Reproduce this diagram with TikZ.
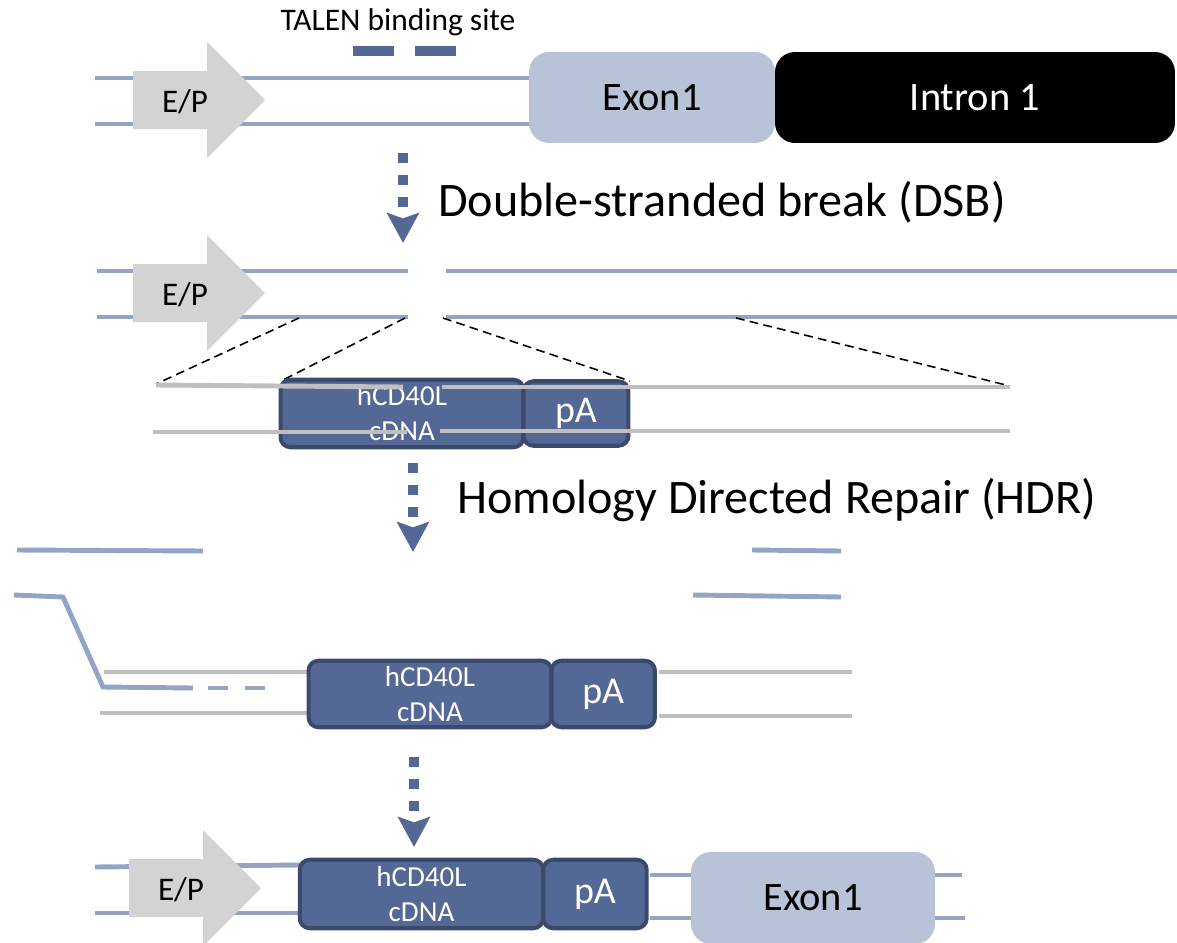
\documentclass[tikz,border=0pt]{standalone}
\usepackage{fontspec}
\setmainfont{Carlito}
\usetikzlibrary{arrows.meta}
\definecolor{strandblue}{RGB}{148,164,196}
\definecolor{cassette}{RGB}{83,104,149}
\definecolor{cassetteedge}{RGB}{59,74,108}
\definecolor{exonfill}{RGB}{184,195,216}
\definecolor{promgray}{RGB}{211,211,211}
\definecolor{donorgray}{RGB}{191,191,191}

\begin{document}
\begin{tikzpicture}[x=0.02cm, y=-0.02cm,
  strand/.style={draw=strandblue, line width=2.8pt},
  donor/.style={draw=donorgray, line width=2.8pt},
  zoomline/.style={draw=black, line width=0.9pt, dash pattern=on 5pt off 3pt},
  talensite/.style={draw=cassette, line width=5.7pt, dash pattern=on 23.3pt off 11.9pt},
  promoter/.style={fill=promgray},
  eplabel/.style={anchor=base, font=\fontsize{18.8}{22}\selectfont},
  exonbox/.style={fill=exonfill, rounded corners=0.4cm, inner sep=0pt, outer sep=0pt, font=\fontsize{23}{28}\selectfont},
  intronbox/.style={fill=black, text=white, rounded corners=0.4cm, inner sep=0pt, outer sep=0pt, font=\fontsize{23}{28}\selectfont},
  cdnabox/.style={fill=cassette, draw=cassetteedge, line width=2.3pt, rounded corners=0.2cm, text=white, align=center, inner sep=0pt, outer sep=0pt, font=\fontsize{16.5}{19.9}\selectfont},
  pabox/.style={fill=cassette, draw=cassetteedge, line width=2.3pt, rounded corners=0.2cm, text=white, inner sep=0pt, outer sep=0pt, anchor=west, font=\fontsize{21.6}{26}\selectfont},
  steplabel/.style={anchor=base west, font=\fontsize{27.4}{32}\selectfont},
  flow/.style={draw=cassette, line width=5.7pt, dash pattern=on 5.7pt off 6.8pt, -{Stealth[length=17pt, width=18pt, inset=3pt]}}
]
\useasboundingbox (0,0) rectangle (1177,943);

% TALEN binding site
\node[anchor=base, font=\fontsize{17.9}{21}\selectfont] (talen) at (398,31) {TALEN binding site};
\draw[talensite] (353,51) -- (457,51);

% Strands
\draw[strand] (95,78) -- (540,78);
\draw[strand] (95,124) -- (540,124);
\draw[strand] (97,271) -- (408,271);
\draw[strand] (446,271) -- (1177,271);
\draw[strand] (97,317) -- (408,317);
\draw[strand] (446,317) -- (1177,317);
\draw[strand] (17,550) -- (203,551);
\draw[strand] (752,550) -- (841,551);
\draw[strand] (693,595) -- (841,597);
\draw[strand] (14,595) -- (63,597) -- (103,687) -- (193,688);
\draw[strand, dash pattern=on 11.4pt off 9.7pt] (208,688) -- (266,688);
\draw[strand] (95,867) -- (300,865);
\draw[strand] (95,913) -- (300,913);
\draw[strand] (650,875) -- (700,875);
\draw[strand] (650,918) -- (700,918);
\draw[strand] (930,875) -- (962,875);
\draw[strand] (930,918) -- (965,918);

% Enhancer/promoter
\foreach \cy/\dx [count=\i] in {100/0, 293/0, 888/-4} {
  \fill[promoter] ({133+\dx},{\cy-29}) -- ({207+\dx},{\cy-29}) -- ({207+\dx},{\cy-58})
    -- ({265+\dx},\cy) -- ({207+\dx},{\cy+58}) -- ({207+\dx},{\cy+29}) -- ({133+\dx},{\cy+29}) -- cycle;
  \node[eplabel] (ep\i) at ({185+\dx},{\cy+12}) {E/P};
}

% Locus
\node[exonbox, minimum width=4.92cm, minimum height=1.82cm] (exonA) at (652,97.5) {Exon1};
\node[intronbox, minimum width=8cm, minimum height=1.82cm] (intron) at (975,97.5) {Intron 1};

% Steps
\coordinate (dsbstart) at (403,153);
\coordinate (dsbend) at (403,243);
\draw[flow] (dsbstart) -- (dsbend);
\node[steplabel] (dsb) at (432,216) {Double-stranded break (DSB)};

\coordinate (hdrstart) at (413,463);
\coordinate (hdrend) at (413,552);
\draw[flow] (hdrstart) -- (hdrend);
\node[steplabel] (hdr) at (451,513) {Homology Directed Repair (HDR)};

\coordinate (kistart) at (414,757);
\coordinate (kiend) at (414,847);
\draw[flow] (kistart) -- (kiend);

% Donor template
\draw[zoomline] (299,318) -- (156,384);
\draw[zoomline] (405,318) -- (283,380);
\draw[zoomline] (443,318) -- (630,381);
\draw[zoomline] (736,318) -- (1010,386);
\node[cdnabox, minimum width=4.86cm, minimum height=1.35cm] (cdnaA) at (402,413.5) {hCD40L\\cDNA};
\node[pabox, minimum width=2.1cm, minimum height=1.29cm] (paA) at (cdnaA.east) {pA};
\draw[donor] (156,385) -- (403,387);
\draw[donor] (442,387) -- (1010,387);
\draw[donor] (153,432) -- (407,432);
\draw[donor] (440,431) -- (1010,431);

% Repair
\draw[donor] (104,672) -- (307,672);
\draw[donor] (100,713) -- (307,713);
\draw[donor] (659,672) -- (852,672);
\draw[donor] (659,716) -- (852,716);
\node[cdnabox, minimum width=4.86cm, minimum height=1.33cm] (cdnaB) at (430,694) {hCD40L\\cDNA};
\node[pabox, minimum width=2.07cm, minimum height=1.33cm] (paB) at (cdnaB.east) {pA};

% Knock-in allele
\node[cdnabox, minimum width=4.87cm, minimum height=1.37cm] (cdnaC) at (421.5,894) {hCD40L\\cDNA};
\node[pabox, minimum width=2.07cm, minimum height=1.37cm] (paC) at (cdnaC.east) {pA};
\node[exonbox, minimum width=4.88cm, minimum height=1.84cm] (exonB) at (813,898) {Exon1};

\end{tikzpicture}
\end{document}
